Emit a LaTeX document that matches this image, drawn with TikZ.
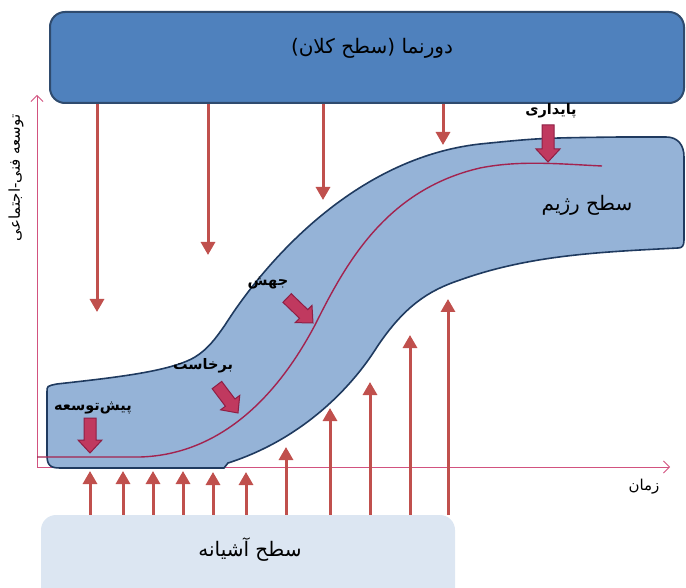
\documentclass[tikz,border=0pt]{standalone}
\usepackage{fontspec}
\usetikzlibrary{arrows.meta}
\TeXXeTstate=1
\newfontfamily\farsi[Script=Arabic]{DejaVu Sans}
\definecolor{macrofill}{HTML}{4F81BD}
\definecolor{macroline}{HTML}{2F4B6E}
\definecolor{nichefill}{HTML}{DCE6F2}
\definecolor{regimefill}{HTML}{95B3D7}
\definecolor{regimeline}{HTML}{1F3A5F}
\definecolor{pressure}{HTML}{C0504D}
\definecolor{pathline}{HTML}{A3234F}
\definecolor{phasefill}{HTML}{C0395F}
\definecolor{phaseline}{HTML}{8E1F45}
\definecolor{axisline}{HTML}{D2527F}

\begin{document}
\begin{tikzpicture}[x=1pt,y=-1pt,
	landscape box/.style={draw=macroline, fill=macrofill, line width=2pt, rounded corners=15pt, minimum width=634pt, minimum height=91pt},
	niche box/.style={fill=nichefill, rounded corners=15pt, minimum width=414pt, minimum height=90pt},
	regime/.style={draw=regimeline, fill=regimefill, line width=1.6pt},
	path line/.style={draw=pathline, line width=1.4pt},
	pressure arrow/.style={pressure, line width=3pt, -{Triangle[width=14pt,length=13pt]}},
	phase arrow/.style={fill=phasefill, draw=phaseline, line width=1pt},
	axis arrow/.style={axisline, line width=0.8pt, -{Straight Barb[width=12pt,length=6pt]}},
	level text/.style={font=\farsi\fontsize{20}{24}\selectfont},
	phase text/.style={font=\farsi\bfseries\fontsize{14.5}{17}\selectfont},
	axis text/.style={font=\farsi\fontsize{15}{18}\selectfont}]
				\useasboundingbox (0,0) rectangle (686,588);
				\clip (0,0) rectangle (686,588);
				
				\node[landscape box] (landscape) at (367,57.5) {};
				\node[level text] (landscapetext) at (372,48) {\beginR دورنما (سطح کلان)\endR};
				\node[niche box] (niche) at (248,560) {};
				\node[level text] (nichetext) at (250,550) {\beginR سطح آشیانه\endR};
				
				\coordinate (origin) at (37,467);
				\draw[axis arrow] (origin) -- (670,467);
				\draw[axis arrow] (origin) -- (37,95);
				\node[axis text] (timelabel) at (644,487) {\beginR زمان\endR};
				\node[axis text, rotate=90] (devlabel) at (16,178) {\beginR توسعه فنی-اجتماعی\endR};
				
				\draw[regime] (47,400) -- (47,392) .. controls (47,386) .. (57,384)
					.. controls (110,378) and (170,372) .. (195,357)
					.. controls (208,349) and (216,338) .. (225,325)
					.. controls (265,262) and (355,158) .. (480,144)
					.. controls (540,138) .. (620,137) -- (666,137)
					.. controls (678,137) and (684,145) .. (684,157) -- (684,240)
					.. controls (684,246) and (682,248) .. (678,248)
					.. controls (600,252) and (530,255) .. (460,280)
					.. controls (430,290) and (405,305) .. (377,347)
					.. controls (350,390) and (300,440) .. (228,463)
					-- (224,468) -- (60,468) .. controls (50,468) and (47,465) .. (47,455) -- cycle;
				\node[level text] (regimetext) at (587,205) {\beginR سطح رژیم\endR};
				
				\draw[path line] (37,457) -- (140,457) .. controls (210,455) and (270,410) .. (315,325)
					.. controls (345,265) and (385,190) .. (480,168) .. controls (520,160) and (560,164) .. (602,166);
				
				\foreach \x/\y/\a/\l in {90/453/0/35, 238/413/37/35, 313/323/46/36, 548/162/0/37}
					\draw[phase arrow, shift={(\x,\y)}, rotate=\a] (0,0) -- (-12,-13) -- (-6,-13) -- (-6,-\l) -- (6,-\l) -- (6,-13) -- (12,-13) -- cycle;
				
				\node[phase text] (predev) at (93,408) {\beginR پیش‌توسعه\endR};
				\node[phase text] (takeoff) at (203,366) {\beginR برخاست\endR};
				\node[phase text] (leap) at (268,283) {\beginR جهش\endR};
				\node[phase text] (stable) at (551,111) {\beginR پایداری\endR};
				
				\foreach \x/\y in {97/312, 208/255, 323/200, 443/145}
					\draw[pressure arrow] (\x,0 |- landscape.south) -- (\x,\y);
				\foreach \x/\y in {90/471, 123/471, 153/471, 183/471, 213/472, 246/472, 286/447, 330/408, 370/382, 410/335, 448/299}
					\draw[pressure arrow] (\x,0 |- niche.north) -- (\x,\y);
\end{tikzpicture}
\end{document}
